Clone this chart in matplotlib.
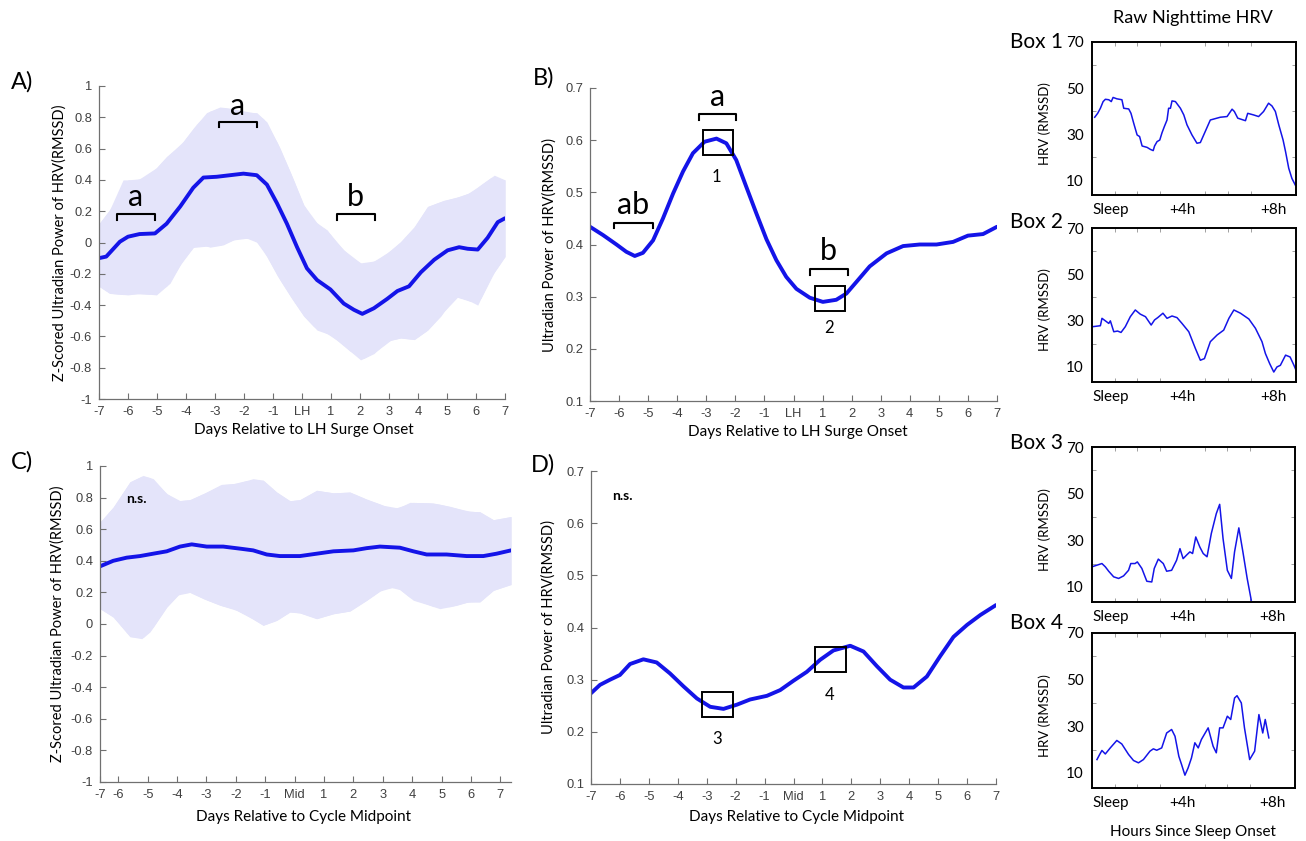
import numpy as np
import matplotlib
matplotlib.use('Agg')
import matplotlib.pyplot as plt
from matplotlib.patches import Rectangle

W, H = 1306, 841
BLUE = '#1414e8'
FILL = '#e4e4fa'
TICKC = '#404040'
LBL = 'Lato'
NUM = 'Liberation Sans'

# panel A: LH aligned, z-scored
a_x = [-7, -6.75, -6.28, -6, -5.6, -5.07, -4.67, -4.2, -3.75, -3.4, -2.94, -2.48, -2.02, -1.56, -1.21,
       -0.86, -0.52, -0.17, 0.17, 0.52, 0.98, 1.44, 1.79, 2.08, 2.48, 2.94, 3.29, 3.69, 4.1, 4.56,
       5.02, 5.42, 5.71, 6.06, 6.4, 6.75, 7.0]
a_mean = [-0.10, -0.09, 0.005, 0.037, 0.054, 0.058, 0.12, 0.23, 0.35, 0.415, 0.42, 0.43, 0.44, 0.43, 0.37,
          0.25, 0.12, -0.03, -0.165, -0.24, -0.30, -0.39, -0.43, -0.456, -0.42, -0.36, -0.31, -0.28, -0.19, -0.11,
          -0.05, -0.03, -0.04, -0.045, 0.03, 0.13, 0.155]
a_up_x = [-7, -6.63, -6.17, -5.71, -5.25, -4.67, -4.2, -3.75, -3.29, -2.83, -2.37, -1.9, -1.56, -1.21, -0.75,
          -0.29, 0.06, 0.4, 0.87, 1.21, 1.67, 2.13, 2.6, 3.06, 3.4, 3.87, 4.33, 4.9, 5.36, 5.82, 6.17, 6.63, 7.0]
a_up = [0.12, 0.21, 0.40, 0.40, 0.43, 0.55, 0.62, 0.73, 0.83, 0.866, 0.855, 0.83, 0.83, 0.77, 0.60,
        0.40, 0.24, 0.14, 0.08, -0.005, -0.09, -0.143, -0.11, -0.05, 0.005, 0.10, 0.23, 0.27, 0.29, 0.32, 0.37, 0.43, 0.40]
a_lo_x = [-7, -6.63, -6, -5.6, -5.02, -4.55, -4.1, -3.63, -3.17, -2.71, -2.25, -1.67, -1.33, -0.86, -0.4,
          0.06, 0.52, 0.98, 1.44, 2.02, 2.48, 2.94, 3.4, 3.87, 4.33, 4.79, 5.25, 5.48, 5.71, 6.06, 6.52, 7.0]
a_lo = [-0.28, -0.325, -0.335, -0.325, -0.335, -0.26, -0.11, -0.005, -0.03, -0.015, 0.027, 0.027, -0.05, -0.21, -0.345,
        -0.47, -0.56, -0.59, -0.66, -0.75, -0.71, -0.63, -0.61, -0.62, -0.56, -0.47, -0.345, -0.355, -0.367, -0.40, -0.22, -0.09]

# panel B: LH aligned, raw power
b_x = [-7, -6.55, -6.09, -5.75, -5.46, -5.18, -4.83, -4.49, -4.14, -3.8, -3.46, -3.06, -2.65, -2.31, -1.97,
       -1.62, -1.28, -0.93, -0.59, -0.25, 0.1, 0.56, 1.01, 1.47, 1.82, 2.16, 2.62, 3.2, 3.77, 4.34, 4.92,
       5.49, 6.0, 6.52, 7.0]
b_mean = [0.434, 0.418, 0.40, 0.386, 0.378, 0.384, 0.408, 0.45, 0.498, 0.54, 0.575, 0.597, 0.603, 0.594, 0.562,
          0.51, 0.46, 0.41, 0.37, 0.338, 0.315, 0.298, 0.29, 0.294, 0.306, 0.328, 0.358, 0.383, 0.397, 0.40, 0.40,
          0.405, 0.417, 0.42, 0.434]

# panel C: midpoint aligned, z-scored
c_x = [-6.62, -6.17, -5.71, -5.26, -4.81, -4.35, -3.9, -3.5, -2.99, -2.43, -1.86, -1.41, -0.95, -0.5, 0.18,
       0.75, 1.32, 2.0, 2.45, 2.9, 3.58, 4.04, 4.49, 5.17, 5.85, 6.42, 6.87, 7.36]
c_mean = [0.365, 0.40, 0.42, 0.43, 0.445, 0.46, 0.49, 0.504, 0.49, 0.49, 0.477, 0.466, 0.44, 0.43, 0.43,
          0.445, 0.46, 0.466, 0.48, 0.49, 0.483, 0.46, 0.44, 0.44, 0.43, 0.43, 0.445, 0.466]
c_up_x = [-6.62, -6.17, -5.6, -5.15, -4.81, -4.35, -3.96, -3.56, -2.99, -2.48, -1.97, -1.41, -1.07, -0.61, -0.16,
          0.18, 0.75, 1.32, 1.88, 2.45, 2.9, 3.3, 3.58, 3.92, 4.72, 5.28, 5.85, 6.3, 6.76, 7.36]
c_up = [0.645, 0.74, 0.90, 0.94, 0.92, 0.825, 0.78, 0.787, 0.835, 0.884, 0.89, 0.92, 0.91, 0.835, 0.78,
        0.787, 0.846, 0.83, 0.835, 0.79, 0.76, 0.73, 0.74, 0.77, 0.766, 0.745, 0.715, 0.71, 0.66, 0.68]
c_lo_x = [-6.62, -6.17, -5.6, -5.2, -4.92, -4.35, -3.9, -3.56, -3.1, -2.53, -2.09, -1.63, -1.07, -0.61, -0.16,
          0.18, 0.75, 1.32, 1.88, 2.45, 3.02, 3.47, 4.04, 4.6, 4.94, 5.51, 5.96, 6.3, 6.76, 7.36]
c_lo = [0.097, 0.044, -0.08, -0.093, -0.05, 0.107, 0.196, 0.20, 0.16, 0.118, 0.097, 0.055, -0.008, 0.023, 0.076,
        0.07, 0.034, 0.065, 0.082, 0.15, 0.224, 0.234, 0.15, 0.118, 0.097, 0.118, 0.143, 0.14, 0.213, 0.25]

# panel D: midpoint aligned, raw power
d_x = [-7, -6.69, -6.34, -6.0, -5.65, -5.19, -4.73, -4.27, -3.8, -3.34, -2.88, -2.42, -1.96, -1.5, -0.92,
       -0.46, 0.0, 0.46, 0.92, 1.38, 1.96, 2.42, 2.88, 3.34, 3.8, 4.15, 4.61, 5.07, 5.53, 6.0, 6.46, 7.0]
d_mean = [0.274, 0.29, 0.30, 0.309, 0.33, 0.339, 0.333, 0.312, 0.287, 0.264, 0.248, 0.244, 0.252, 0.262, 0.269,
          0.28, 0.298, 0.315, 0.338, 0.356, 0.365, 0.354, 0.326, 0.30, 0.285, 0.285, 0.306, 0.345, 0.382, 0.405, 0.424, 0.443]

# raw nighttime HRV traces (hours since sleep onset, RMSSD)
box1_h = [0.12, 0.25, 0.37, 0.49, 0.59, 0.74, 0.85, 0.93, 1.1, 1.32, 1.4, 1.62, 1.72, 1.84, 1.99, 2.1, 2.21, 2.43,
          2.58, 2.7, 2.76, 2.87, 2.99, 3.09, 3.19, 3.31, 3.38, 3.46, 3.53, 3.68, 3.9, 4.05, 4.19, 4.41, 4.63, 4.78,
          4.96, 5.22, 5.66, 5.96, 6.18, 6.28, 6.43, 6.77, 6.87, 7.13, 7.35, 7.57, 7.79, 7.94, 8.09, 8.24, 8.43,
          8.54, 8.68, 8.82, 8.97]
box1_v = [37.3, 39, 41.2, 44.1, 45.1, 44.9, 44.1, 45.9, 45.3, 44.9, 41.2, 40.9, 39, 34.7, 29.6, 28.9, 24.8, 24.2,
          23.3, 22.8, 24.8, 26.7, 27.4, 30.6, 33.2, 36.1, 41.2, 41.2, 44.4, 44.1, 41.2, 38.3, 34, 29.6, 26, 26.3,
          30.3, 36.1, 37.3, 37.6, 40.8, 39.8, 36.9, 35.8, 39, 38.3, 37.6, 39.8, 43.4, 42.2, 39.8, 34, 27.4,
          22.3, 15.1, 10.7, 7.8]
box2_h = [0.04, 0.37, 0.44, 0.59, 0.74, 0.81, 0.96, 1.13, 1.28, 1.47, 1.69, 1.91, 2.13, 2.36, 2.61, 2.76, 2.9,
          3.13, 3.31, 3.53, 3.75, 3.97, 4.27, 4.56, 4.78, 4.96, 5.22, 5.52, 5.81, 6.04, 6.26, 6.55, 6.92, 7.21,
          7.5, 7.65, 7.84, 8.02, 8.16, 8.31, 8.54, 8.74, 8.91, 9.0]
box2_v = [27.4, 27.8, 31, 29.9, 28.8, 29.9, 25.2, 25.5, 24.9, 27.4, 31.7, 34.6, 32.8, 31.7, 28.1, 30.3, 31.3,
          33.2, 31, 32, 31.3, 28.8, 25.2, 18, 12.9, 13.6, 20.9, 23.8, 25.9, 31, 34.6, 33.2, 30.7, 26.7,
          20.9, 15.8, 11.4, 7.8, 10, 10.7, 15.1, 14.3, 10.7, 8.6]
box3_h = [0.0, 0.22, 0.44, 0.59, 0.74, 0.96, 1.18, 1.4, 1.62, 1.72, 1.91, 2.01, 2.21, 2.43, 2.65, 2.76, 2.94,
          3.16, 3.31, 3.53, 3.75, 3.9, 4.04, 4.19, 4.34, 4.46, 4.6, 4.78, 4.93, 5.1, 5.29, 5.51, 5.66, 5.81,
          6.0, 6.18, 6.32, 6.51, 6.69, 6.88, 7.06]
box3_v = [18.6, 19.3, 20, 18.6, 16.7, 14.3, 13.6, 14.7, 17.1, 20, 20, 20.7, 17.9, 12.4, 12.1, 17.9, 21.9,
          20, 16.7, 17.1, 21.4, 26.4, 22.1, 23.6, 25, 24.3, 31.4, 27.1, 24.3, 22.9, 32.9, 41.4, 45.4, 30.7,
          17.1, 13.6, 25, 35.3, 25, 13.6, 4.3]
box4_h = [0.22, 0.34, 0.44, 0.59, 0.81, 1.1, 1.32, 1.62, 1.84, 2.06, 2.28, 2.57, 2.72, 2.87, 3.09, 3.31, 3.53,
          3.68, 3.85, 3.97, 4.12, 4.26, 4.41, 4.56, 4.71, 4.85, 5.15, 5.37, 5.51, 5.66, 5.81, 6.0, 6.15, 6.32,
          6.43, 6.62, 6.76, 6.99, 7.21, 7.4, 7.57, 7.68, 7.84]
box4_v = [15.7, 17.9, 19.6, 18.1, 20.7, 23.9, 22.4, 17.9, 15.3, 14.3, 15.7, 19.3, 20.3, 19.7, 20.7, 27.1, 28.6,
          25.7, 17.1, 13.6, 9, 12.1, 16.4, 22.9, 20.7, 24.3, 29.3, 21.4, 18.6, 29.3, 29.3, 34.3, 32.9, 42.1,
          43.1, 40, 29.3, 15.7, 19.3, 35, 27.1, 32.9, 25]

lh_labels = ['-7', '-6', '-5', '-4', '-3', '-2', '-1', 'LH', '1', '2', '3', '4', '5', '6', '7']
mid_labels = ['-7', '-6', '-5', '-4', '-3', '-2', '-1', 'Mid', '1', '2', '3', '4', '5', '6', '7']


def px_axes(fig, l, t, r, b):
    return fig.add_axes([l / W, 1 - b / H, (r - l) / W, (b - t) / H])


def style_main(ax):
    for s in ['top', 'right']:
        ax.spines[s].set_visible(False)
    for s in ['left', 'bottom']:
        ax.spines[s].set_color('#707070')
        ax.spines[s].set_linewidth(0.9)
    ax.tick_params(direction='in', length=4, width=0.8, color='#707070', labelcolor=TICKC, labelsize=9.3, pad=5)
    for lab in ax.get_xticklabels() + ax.get_yticklabels():
        lab.set_fontfamily(NUM)


def bracket(ax, x0, x1, y, h, letter, ly):
    ax.plot([x0, x0, x1, x1], [y - h, y, y, y - h], color='black', lw=1.5)
    ax.text((x0 + x1) / 2, ly, letter, ha='center', va='center', fontsize=22, family=LBL)


fig = plt.figure(figsize=(W / 100, H / 100), dpi=100)

# ---- A ----
ax = px_axes(fig, 99, 86, 505, 399)
ax.fill_between(a_up_x, a_up, np.interp(a_up_x, a_lo_x, a_lo), color=FILL, lw=0)
ax.fill_between(a_lo_x, np.interp(a_lo_x, a_up_x, a_up), a_lo, color=FILL, lw=0)
ax.plot(a_x, a_mean, color=BLUE, lw=2.8, solid_capstyle='round')
ax.set_xlim(-7, 7)
ax.set_ylim(-1, 1)
ax.set_xticks(range(-7, 8))
ax.set_xticklabels(lh_labels)
ax.set_yticks(np.arange(-1, 1.01, 0.2))
ax.set_yticklabels(['-1', '-0.8', '-0.6', '-0.4', '-0.2', '0', '0.2', '0.4', '0.6', '0.8', '1'])
style_main(ax)
bracket(ax, -6.38, -5.07, 0.18, 0.035, 'a', 0.29)
bracket(ax, -2.87, -1.56, 0.77, 0.035, 'a', 0.875)
bracket(ax, 1.19, 2.5, 0.18, 0.035, 'b', 0.29)
ax.set_ylabel('Z-Scored Ultradian Power of HRV(RMSSD)', family=LBL, fontsize=10.5, va='center')
ax.yaxis.set_label_coords(-39 / 406, 0.5)
ax.set_xlabel('Days Relative to LH Surge Onset', family=LBL, fontsize=11, va='center')
ax.xaxis.set_label_coords(0.505, -31 / 313)
fig.text(22 / W, 1 - 82 / H, 'A)', fontsize=17, family=LBL, ha='center', va='center')

# ---- B ----
ax = px_axes(fig, 590, 88, 997, 401)
ax.plot(b_x, b_mean, color=BLUE, lw=2.8, solid_capstyle='round')
ax.set_xlim(-7, 7)
ax.set_ylim(0.1, 0.7)
ax.set_xticks(range(-7, 8))
ax.set_xticklabels(lh_labels)
ax.set_yticks(np.arange(0.1, 0.71, 0.1))
ax.set_yticklabels(['0.1', '0.2', '0.3', '0.4', '0.5', '0.6', '0.7'])
style_main(ax)
ax.add_patch(Rectangle((-3.12, 0.571), 1.04, 0.048, fill=False, ec='black', lw=1.4, zorder=5))
ax.add_patch(Rectangle((0.73, 0.273), 1.05, 0.047, fill=False, ec='black', lw=1.4, zorder=5))
ax.text(-2.65, 0.53, '1', ha='center', va='center', fontsize=12, family=LBL)
ax.text(1.22, 0.239, '2', ha='center', va='center', fontsize=12, family=LBL)
bracket(ax, -6.16, -4.85, 0.442, 0.011, 'ab', 0.476)
bracket(ax, -3.25, -1.98, 0.65, 0.011, 'a', 0.683)
bracket(ax, 0.56, 1.87, 0.353, 0.011, 'b', 0.387)
ax.set_ylabel('Ultradian Power of HRV(RMSSD)', family=LBL, fontsize=10.5, va='center')
ax.yaxis.set_label_coords(-40 / 407, 0.5)
ax.set_xlabel('Days Relative to LH Surge Onset', family=LBL, fontsize=11, va='center')
ax.xaxis.set_label_coords(0.51, -31 / 313)
fig.text(544 / W, 1 - 78 / H, 'B)', fontsize=17, family=LBL, ha='center', va='center')

# ---- C ----
ax = px_axes(fig, 100, 466, 511, 782)
ax.fill_between(c_up_x, c_up, np.interp(c_up_x, c_lo_x, c_lo), color=FILL, lw=0)
ax.fill_between(c_lo_x, np.interp(c_lo_x, c_up_x, c_up), c_lo, color=FILL, lw=0)
ax.plot(c_x, c_mean, color=BLUE, lw=2.8, solid_capstyle='round')
ax.set_xlim(-6.62, 7.36)
ax.set_ylim(-1, 1)
ax.set_xticks([-6.62] + list(range(-6, 8)))
ax.set_xticklabels(mid_labels)
ax.set_yticks(np.arange(-1, 1.01, 0.2))
ax.set_yticklabels(['-1', '-0.8', '-0.6', '-0.4', '-0.2', '0', '0.2', '0.4', '0.6', '0.8', '1'])
style_main(ax)
ax.text(-5.74, 0.79, 'n.s.', ha='left', va='center', fontsize=10, fontweight='bold', family=LBL)
ax.set_ylabel('Z-Scored Ultradian Power of HRV(RMSSD)', family=LBL, fontsize=10.5, va='center')
ax.yaxis.set_label_coords(-42 / 411, 0.5)
ax.set_xlabel('Days Relative to Cycle Midpoint', family=LBL, fontsize=11, va='center')
ax.xaxis.set_label_coords(0.494, -35 / 316)
fig.text(22 / W, 1 - 462 / H, 'C)', fontsize=17, family=LBL, ha='center', va='center')

# ---- D ----
ax = px_axes(fig, 591, 471, 996, 784)
ax.plot(d_x, d_mean, color=BLUE, lw=2.8, solid_capstyle='round')
ax.set_xlim(-7, 7)
ax.set_ylim(0.1, 0.7)
ax.set_xticks(range(-7, 8))
ax.set_xticklabels(mid_labels)
ax.set_yticks(np.arange(0.1, 0.71, 0.1))
ax.set_yticklabels(['0.1', '0.2', '0.3', '0.4', '0.5', '0.6', '0.7'])
style_main(ax)
ax.add_patch(Rectangle((-3.15, 0.229), 1.05, 0.0475, fill=False, ec='black', lw=1.4, zorder=5))
ax.add_patch(Rectangle((0.75, 0.315), 1.06, 0.047, fill=False, ec='black', lw=1.4, zorder=5))
ax.text(-2.65, 0.187, '3', ha='center', va='center', fontsize=12, family=LBL)
ax.text(1.24, 0.271, '4', ha='center', va='center', fontsize=12, family=LBL)
ax.text(-6.28, 0.653, 'n.s.', ha='left', va='center', fontsize=10, fontweight='bold', family=LBL)
ax.set_ylabel('Ultradian Power of HRV(RMSSD)', family=LBL, fontsize=10.5, va='center')
ax.yaxis.set_label_coords(-42 / 405, 0.5)
ax.set_xlabel('Days Relative to Cycle Midpoint', family=LBL, fontsize=11, va='center')
ax.xaxis.set_label_coords(0.508, -33 / 313)
fig.text(543 / W, 1 - 465 / H, 'D)', fontsize=17, family=LBL, ha='center', va='center')

# ---- raw nighttime boxes ----
boxes = [(box1_h, box1_v, (1092, 42, 1296, 195), 'Box 1', 42),
         (box2_h, box2_v, (1092, 228, 1296, 382), 'Box 2', 222),
         (box3_h, box3_v, (1092, 447, 1295, 602), 'Box 3', 443),
         (box4_h, box4_v, (1092, 633, 1295, 788), 'Box 4', 623)]
for hh, vv, (l, t, r, b), name, ty in boxes:
    ax = px_axes(fig, l, t, r, b)
    ax.plot(hh, vv, color=BLUE, lw=1.1)
    ax.set_xlim(0, 9)
    ax.set_ylim(3.5, 70)
    ax.set_xticks([0, 4, 8])
    ax.set_xticklabels(['Sleep', '+4h', '+8h'], family=LBL, fontsize=11)
    ax.get_xticklabels()[0].set_ha('left')
    ax.set_xticks(range(0, 10), minor=True)
    ax.set_yticks([10, 30, 50, 70])
    ax.set_yticklabels(['10', '30', '50', '70'], family=LBL, fontsize=11)
    ax.set_yticks([20, 40, 60], minor=True)
    for s in ax.spines.values():
        s.set_linewidth(1.4)
        s.set_color('black')
    ax.tick_params(which='both', direction='in', color='#909090', labelcolor='black', top=True, right=True)
    ax.tick_params(which='major', length=0, pad=6)
    ax.tick_params(which='minor', length=3)
    ax.set_ylabel('HRV (RMSSD)', family=LBL, fontsize=9.5, va='center')
    ax.yaxis.set_label_coords(-47 / (r - l), 0.47)
    fig.text(1037 / W, 1 - ty / H, name, fontsize=15, family=LBL, ha='center', va='center')

fig.text(1193 / W, 1 - 18 / H, 'Raw Nighttime HRV', fontsize=13, family=LBL, ha='center', va='center')
fig.text(1193 / W, 1 - 832 / H, 'Hours Since Sleep Onset', fontsize=11, family=LBL, ha='center', va='center')

fig.savefig('out.png', dpi=100)
